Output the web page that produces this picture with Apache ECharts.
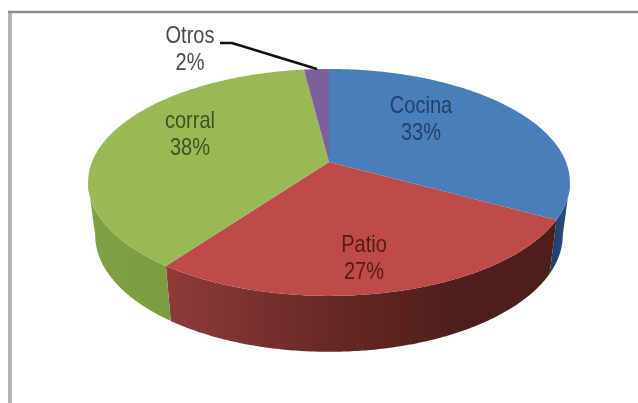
<!DOCTYPE html>
<html><head><meta charset="utf-8">
<style>html,body{margin:0;padding:0;background:#fff}#c{width:638px;height:403px}</style>
<script src="https://cdn.jsdelivr.net/npm/echarts@6/dist/echarts.min.js"></script>
</head><body><div id="c"></div>
<script>
const categories = ['Cocina', 'Patio', 'corral', 'Otros'];
const values = [33, 27, 38, 2];

const topColors = ['#4a7ebb', '#be4b48', '#98b954', '#7d5fa0'];
const textColors = ['#24406a', '#551a17', '#3b5420', '#4a4a4a'];
const total = values.reduce((a, b) => a + b, 0);
const K = 0.18;
const topFace = {cx: 329, cy: 162, rx: 237, ry: 109.8};
const botFace = {cx: 329, cy: 214, rx: 230, ry: 113};
const visibleFrom = Math.acos(-K), visibleTo = 2 * Math.PI - visibleFrom;

function project(f, th) {
  const X = Math.sin(th), Y = -Math.cos(th), w = 1 - K * Y;
  return [f.cx + f.rx * X / w, f.cy + f.ry * Y / w];
}
function arc(f, a, b) {
  const n = Math.max(2, Math.ceil((b - a) / 0.01)), pts = [];
  for (let i = 0; i <= n; i++) pts.push(project(f, a + (b - a) * i / n));
  return pts;
}
function bounds(i) {
  let s = 0;
  for (let j = 0; j < i; j++) s += values[j];
  return [s / total * 2 * Math.PI, (s + values[i]) / total * 2 * Math.PI];
}
const sideFills = [
  new echarts.graphic.LinearGradient(0, 0, 1, 0, [{offset: 0, color: '#1b3c66'}, {offset: 1, color: '#2a5384'}]),
  new echarts.graphic.LinearGradient(0, 0, 1, 0, [{offset: 0, color: '#8f3b38'}, {offset: 0.45, color: '#652725'}, {offset: 0.75, color: '#4e1e1a'}, {offset: 1, color: '#4e1e1a'}]),
  new echarts.graphic.LinearGradient(0, 0, 1, 0, [{offset: 0, color: '#7fa144'}, {offset: 1, color: '#7a9d3f'}]),
  '#5d4678'
];

function renderSide(params) {
  const i = params.dataIndex, [a0, a1] = bounds(i);
  const a = Math.max(a0, visibleFrom), b = Math.min(a1, visibleTo);
  if (b <= a) return {type: 'group', children: []};
  const pts = arc(topFace, a, b).concat(arc(botFace, a, b).reverse());
  return {type: 'polygon', shape: {points: pts}, style: {fill: sideFills[i]}};
}
function renderTop(params) {
  const i = params.dataIndex, [a0, a1] = bounds(i);
  const pts = [[topFace.cx, topFace.cy]].concat(arc(topFace, a0, a1));
  return {type: 'polygon', shape: {points: pts}, style: {fill: topColors[i]}};
}
const labelAt = [[421, 120], [364, 259], [190, 135], [190, 50]];
function renderLabel(params) {
  const i = params.dataIndex;
  return {type: 'text', x: labelAt[i][0], y: labelAt[i][1], scaleY: 1.2, style: {
    x: 0, y: 0,
    text: categories[i] + '\n' + Math.round(values[i] / total * 100) + '%',
    fill: textColors[i], font: '20px "Liberation Sans"', lineHeight: 22, align: 'center', verticalAlign: 'middle'
  }};
}
const rows = values.map((v, i) => [i, v]);
const chart = echarts.init(document.getElementById('c'), null, {renderer: 'canvas'});
chart.setOption({
  animation: false,
  backgroundColor: '#ffffff',
  graphic: [
    {type: 'line', z: 0, shape: {x1: 10, y1: 12, x2: 10, y2: 403}, style: {stroke: '#b4b4b4', lineWidth: 4}},
    {type: 'line', z: 0, shape: {x1: 8, y1: 12, x2: 638, y2: 12}, style: {stroke: '#8c8c8c', lineWidth: 2.4}},
    {type: 'polyline', z: 10, shape: {points: [[220, 43], [232, 43], [317, 69]]}, style: {stroke: '#111', lineWidth: 2.6, fill: null}}
  ],
  series: [
    {type: 'custom', coordinateSystem: 'none', data: rows, renderItem: renderSide, z: 2, silent: true},
    {type: 'custom', coordinateSystem: 'none', data: rows, renderItem: renderTop, z: 3, silent: true},
    {type: 'custom', coordinateSystem: 'none', data: rows, renderItem: renderLabel, z: 4, silent: true}
  ]
});
</script></body></html>
